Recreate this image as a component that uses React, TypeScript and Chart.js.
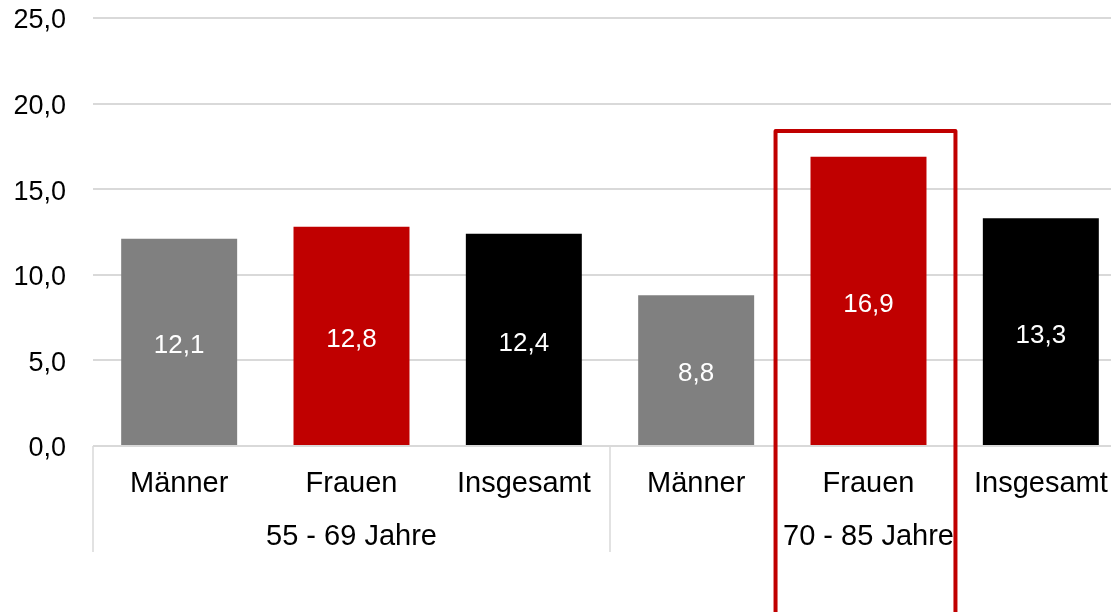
import React, { useEffect, useRef } from "react";
import { Chart, registerables } from "chart.js";

Chart.register(...registerables);

const categories = ["Männer", "Frauen", "Insgesamt", "Männer", "Frauen", "Insgesamt"];
const groups = ["55 - 69 Jahre", "70 - 85 Jahre"];
const groupSizes = [3, 3];
const values = [12.1, 12.8, 12.4, 8.8, 16.9, 13.3];
const barColors = ["#808080", "#C00000", "#000000", "#808080", "#C00000", "#000000"];
const yTicks = [0, 5, 10, 15, 20, 25];
const highlightIndex = 4;
const highlightTopValue = 18.4;

const FONT = "'Liberation Sans', Arial, sans-serif";
const fmt = (v: number) => v.toFixed(1).replace(".", ",");

const overlayPlugin = {
  id: "overlay",
  afterDatasetsDraw(chart: any) {
    const { ctx, chartArea, scales } = chart;
    const x = scales.x;
    const y = scales.y;
    const meta = chart.getDatasetMeta(0);
    const catW = x.getPixelForValue(1) - x.getPixelForValue(0);
    ctx.save();
    // value labels
    ctx.font = `26px ${FONT}`;
    ctx.fillStyle = "#ffffff";
    ctx.textAlign = "center";
    ctx.textBaseline = "middle";
    meta.data.forEach((bar: any, i: number) => {
      const cy = (bar.y + bar.base) / 2;
      ctx.fillText(fmt(values[i]), bar.x, cy + 4);
    });
    // category labels
    ctx.fillStyle = "#000000";
    ctx.font = `29px ${FONT}`;
    categories.forEach((c, i) => {
      ctx.fillText(c, x.getPixelForValue(i), chartArea.bottom + 38);
    });
    // group labels + separators
    ctx.strokeStyle = "#d9d9d9";
    ctx.lineWidth = 1.5;
    let start = 0;
    const edges: number[] = [x.getPixelForValue(0) - catW / 2];
    groups.forEach((g, gi) => {
      const end = start + groupSizes[gi];
      const left = x.getPixelForValue(start) - catW / 2;
      const right = x.getPixelForValue(end - 1) + catW / 2;
      ctx.fillText(g, (left + right) / 2, chartArea.bottom + 91);
      edges.push(right);
      start = end;
    });
    edges.forEach((ex) => {
      ctx.beginPath();
      ctx.moveTo(ex, chartArea.bottom);
      ctx.lineTo(ex, chartArea.bottom + 106);
      ctx.stroke();
    });
    // highlight rectangle
    const hc = x.getPixelForValue(highlightIndex) - 3;
    const hw = catW * 0.522;
    const top = y.getPixelForValue(highlightTopValue);
    ctx.strokeStyle = "#C00000";
    ctx.lineWidth = 4;
    ctx.lineJoin = "round";
    ctx.beginPath();
    ctx.moveTo(hc - hw, chart.height + 10);
    ctx.lineTo(hc - hw, top);
    ctx.lineTo(hc + hw, top);
    ctx.lineTo(hc + hw, chart.height + 10);
    ctx.stroke();
    ctx.restore();
  },
};

export default function App() {
  const ref = useRef<HTMLCanvasElement | null>(null);
  useEffect(() => {
    if (!ref.current) return;
    const chart = new Chart(ref.current, {
      type: "bar",
      data: {
        labels: categories,
        datasets: [
          {
            data: values,
            backgroundColor: barColors,
            borderWidth: 0,
            categoryPercentage: 0.673,
            barPercentage: 1,
          },
        ],
      },
      options: {
        responsive: false,
        animation: false,
        devicePixelRatio: 1,
        layout: { padding: { left: 0, right: 3, top: 18, bottom: 166 } },
        plugins: { legend: { display: false }, tooltip: { enabled: false } },
        scales: {
          x: { display: false, offset: true },
          y: {
            min: 0,
            max: 25,
            afterBuildTicks: (s: any) => {
              s.ticks = yTicks.map((v) => ({ value: v }));
            },
            afterFit: (s: any) => {
              s.width = 93;
              s.paddingTop = 0;
              s.paddingBottom = 0;
            },
            border: { display: false },
            grid: { color: "#d9d9d9", lineWidth: 2, drawTicks: false },
            ticks: {
              padding: 27,
              labelOffset: 3,
              color: "#000000",
              font: { family: FONT, size: 27 },
              callback: (v: any) => fmt(Number(v)),
            },
          },
        },
      },
      plugins: [overlayPlugin],
    });
    return () => chart.destroy();
  }, []);
  return (
    <div style={{ position: "fixed", left: 0, top: 0, width: 1111, height: 612, overflow: "hidden", background: "#fff" }}>
      <canvas ref={ref} width={1130} height={612} style={{ width: 1130, height: 612 }} />
    </div>
  );
}
